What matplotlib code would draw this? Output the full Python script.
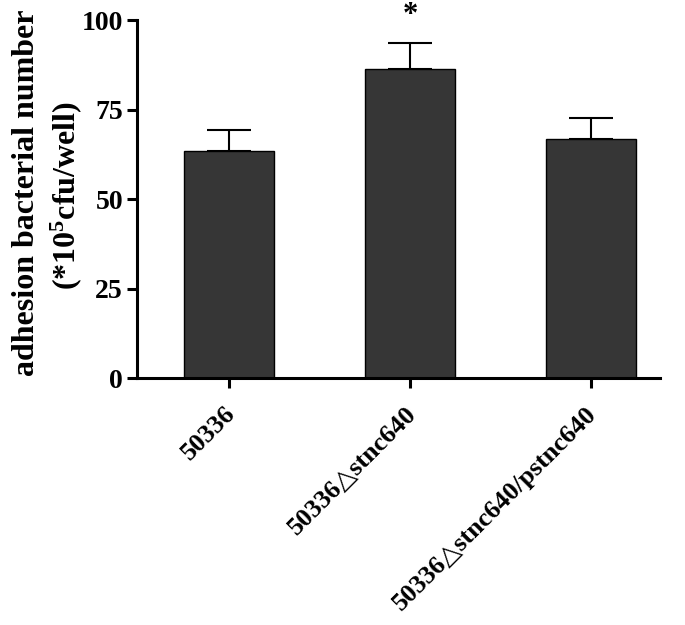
import matplotlib
matplotlib.use("Agg")
import matplotlib.pyplot as plt
from matplotlib.transforms import ScaledTranslation

categories = ["50336", "50336\u25b3stnc640", "50336\u25b3stnc640/pstnc640"]
means = [63.5, 86.2, 66.7]
errors = [5.8, 7.3, 6.0]
yticks = [0, 25, 50, 75, 100]
ylabel_lines = ["adhesion bacterial number", "(*10$^{5}$cfu/well)"]

plt.rcParams['font.family'] = ['Liberation Serif', 'DejaVu Serif']
plt.rcParams['font.weight'] = 'bold'
plt.rcParams['mathtext.fontset'] = 'custom'
plt.rcParams['mathtext.rm'] = 'Liberation Serif:bold'
plt.rcParams['mathtext.it'] = 'Liberation Serif:bold'
plt.rcParams['mathtext.bf'] = 'Liberation Serif:bold'

fig = plt.figure(figsize=(6.85, 6.25), dpi=100)
ax = fig.add_axes([0.2, 0.395, 0.763, 0.573])

x = list(range(len(categories)))
ax.errorbar(x, means, yerr=[[0]*len(errors), errors], fmt='none', ecolor='black',
            elinewidth=1.5, capsize=16, capthick=1.5, zorder=1)
ax.bar(x, means, width=0.5, color='#363636', edgecolor='black', linewidth=1.0, zorder=2)

ax.text(1, 101.2, "*", ha='center', va='center', fontsize=22, fontweight='bold', clip_on=False)

ax.set_xlim(-0.51, 2.38)
ax.set_ylim(0, 100)
ax.set_yticks(yticks)
ax.set_yticklabels([str(t) for t in yticks], fontsize=20, fontweight='bold')
ax.set_xticks(x)
ax.set_xticklabels([])
trans = ax.get_xaxis_transform() + ScaledTranslation(-0.06, -0.24, fig.dpi_scale_trans)
for xi, lab in zip(x, categories):
    ax.text(xi, 0, lab, transform=trans, rotation=45, ha='right', va='top',
            rotation_mode='anchor', fontsize=19, fontweight='bold', clip_on=False)
for sp in ['top', 'right']:
    ax.spines[sp].set_visible(False)
for sp in ['left', 'bottom']:
    ax.spines[sp].set_linewidth(2.2)
ax.tick_params(axis='both', direction='out', length=7, width=2.2, pad=3)

fig.text(27 / 685, 1 - 193 / 625, ylabel_lines[0], rotation=90, ha='center', va='center',
         fontsize=23, fontweight='bold')
fig.text(66 / 685, 1 - 196 / 625, ylabel_lines[1], rotation=90, ha='center', va='center',
         fontsize=23, fontweight='bold')

fig.savefig("out.png", dpi=100)
